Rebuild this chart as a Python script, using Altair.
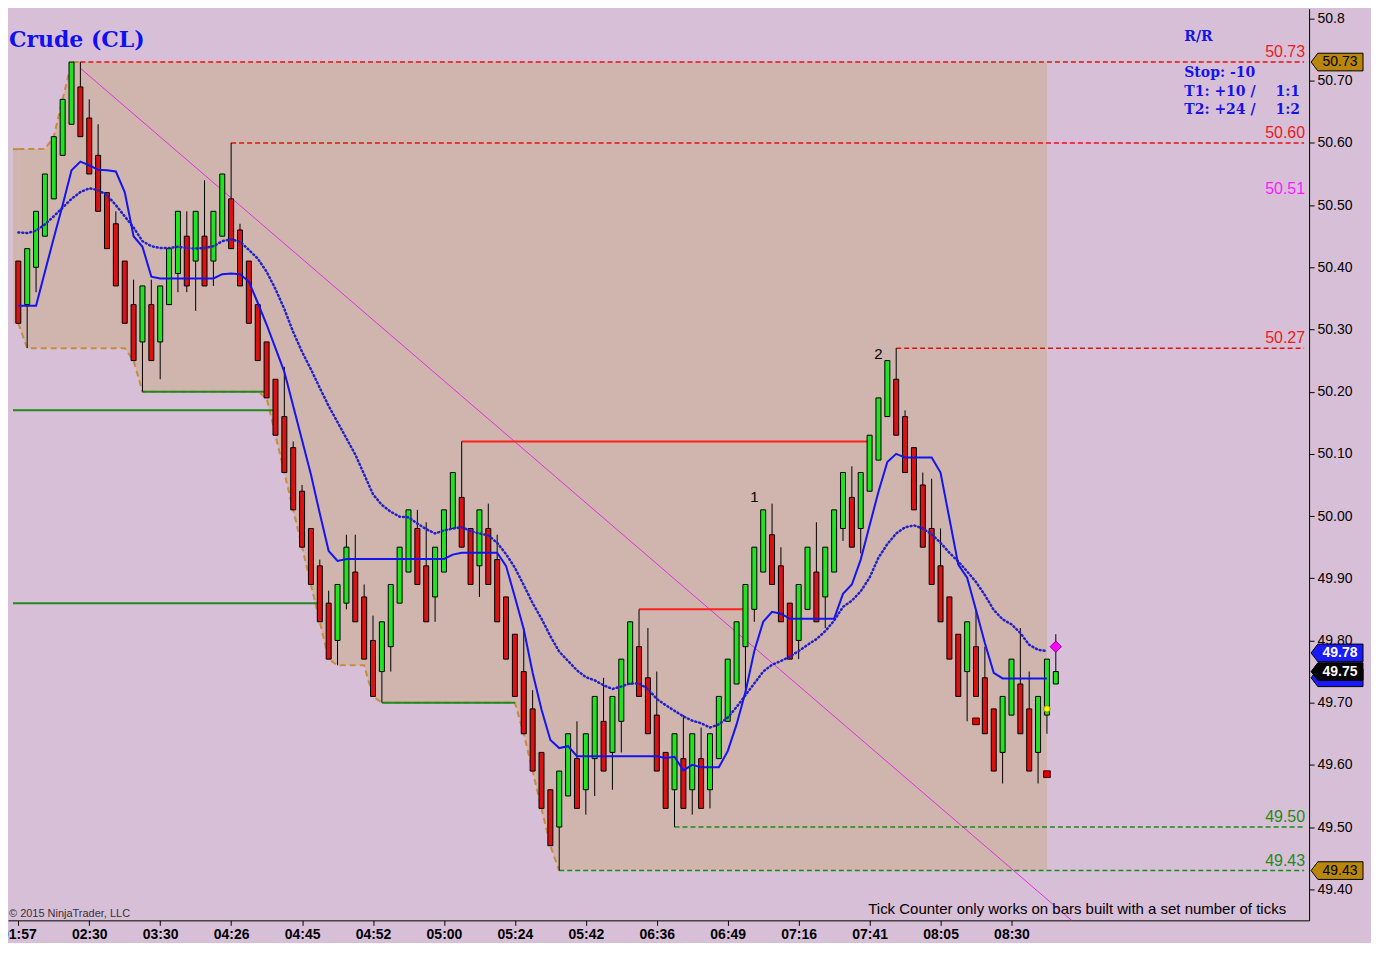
import altair as alt
import pandas as pd

# ---------------- axis ranges / sizes ----------------
X_MIN, X_MAX = -0.6, 145
Y_MIN, Y_MAX = 49.35, 50.8158
W, H = 1303, 913

# ---------------- bar data (range bars) ----------------
OPEN = [50.41, 50.34, 50.40, 50.45, 50.51, 50.58, 50.63, 50.69, 50.64, 50.58,
        50.52, 50.47, 50.41, 50.34, 50.28, 50.34, 50.28, 50.34, 50.39, 50.45,
        50.41, 50.45, 50.41, 50.45, 50.51, 50.46, 50.41, 50.34, 50.28, 50.22,
        50.16, 50.11, 50.04, 49.98, 49.92, 49.86, 49.80, 49.86, 49.91, 49.87,
        49.80, 49.75, 49.79, 49.86, 49.91, 49.98, 49.92, 49.87, 49.91, 49.98,
        50.03, 49.98, 49.92, 49.98, 49.93, 49.87, 49.81, 49.75, 49.69, 49.62,
        49.56, 49.50, 49.55, 49.61, 49.56, 49.61, 49.67, 49.62, 49.67, 49.73,
        49.79, 49.74, 49.68, 49.62, 49.56, 49.61, 49.56, 49.61, 49.56, 49.61,
        49.67, 49.73, 49.79, 49.85, 49.91, 49.97, 49.92, 49.86, 49.80, 49.85,
        49.91, 49.87, 49.91, 49.98, 50.03, 49.98, 50.04, 50.09, 50.16, 50.22,
        50.16, 50.11, 50.05, 49.98, 49.92, 49.87, 49.81, 49.75, 49.79, 49.74,
        49.69, 49.62, 49.68, 49.73, 49.69, 49.62, 49.68, 49.73]
HIGH = [50.41, 50.43, 50.49, 50.55, 50.61, 50.67, 50.73, 50.73, 50.67, 50.63,
        50.52, 50.49, 50.41, 50.38, 50.37, 50.38, 50.37, 50.43, 50.49, 50.49,
        50.49, 50.54, 50.49, 50.55, 50.60, 50.47, 50.41, 50.34, 50.28, 50.22,
        50.24, 50.12, 50.05, 49.98, 49.93, 49.88, 49.89, 49.97, 49.97, 49.89,
        49.84, 49.83, 49.89, 49.95, 50.01, 50.01, 49.99, 49.95, 50.01, 50.07,
        50.12, 49.98, 50.01, 50.02, 49.97, 49.87, 49.81, 49.82, 49.72, 49.62,
        49.56, 49.59, 49.65, 49.67, 49.65, 49.71, 49.74, 49.71, 49.77, 49.83,
        49.85, 49.82, 49.75, 49.62, 49.65, 49.68, 49.65, 49.66, 49.65, 49.71,
        49.77, 49.83, 49.89, 49.95, 50.01, 50.02, 49.95, 49.86, 49.89, 49.95,
        49.99, 49.95, 50.01, 50.07, 50.08, 50.07, 50.13, 50.19, 50.25, 50.27,
        50.17, 50.11, 50.07, 50.06, 49.98, 49.87, 49.81, 49.83, 49.85, 49.79,
        49.69, 49.71, 49.77, 49.82, 49.75, 49.71, 49.77, 49.81]
LOW = [50.31, 50.27, 50.36, 50.45, 50.51, 50.58, 50.63, 50.61, 50.55, 50.49,
       50.43, 50.37, 50.31, 50.25, 50.20, 50.25, 50.22, 50.34, 50.36, 50.36,
       50.33, 50.37, 50.37, 50.45, 50.43, 50.37, 50.31, 50.25, 50.19, 50.13,
       50.07, 50.01, 49.95, 49.89, 49.83, 49.77, 49.76, 49.85, 49.83, 49.77,
       49.71, 49.70, 49.75, 49.86, 49.91, 49.89, 49.83, 49.83, 49.91, 49.98,
       49.95, 49.89, 49.87, 49.89, 49.83, 49.77, 49.71, 49.65, 49.59, 49.53,
       49.47, 49.43, 49.55, 49.53, 49.52, 49.55, 49.59, 49.56, 49.62, 49.73,
       49.71, 49.65, 49.59, 49.53, 49.50, 49.53, 49.52, 49.53, 49.53, 49.61,
       49.67, 49.73, 49.71, 49.83, 49.91, 49.89, 49.83, 49.77, 49.77, 49.85,
       49.83, 49.82, 49.91, 49.96, 49.95, 49.94, 50.04, 50.09, 50.16, 50.13,
       50.07, 50.01, 49.95, 49.89, 49.83, 49.77, 49.71, 49.67, 49.71, 49.65,
       49.59, 49.57, 49.68, 49.65, 49.59, 49.57, 49.65, 49.73]
CLOSE = [50.31, 50.43, 50.49, 50.55, 50.61, 50.67, 50.73, 50.61, 50.55, 50.49,
         50.43, 50.37, 50.31, 50.25, 50.37, 50.25, 50.37, 50.43, 50.49, 50.37,
         50.49, 50.37, 50.49, 50.55, 50.43, 50.37, 50.31, 50.25, 50.19, 50.13,
         50.07, 50.01, 49.95, 49.89, 49.83, 49.77, 49.89, 49.95, 49.83, 49.77,
         49.71, 49.83, 49.89, 49.95, 50.01, 49.89, 49.83, 49.95, 50.01, 50.07,
         49.95, 49.89, 50.01, 49.89, 49.83, 49.77, 49.71, 49.65, 49.59, 49.53,
         49.47, 49.59, 49.65, 49.53, 49.65, 49.71, 49.59, 49.71, 49.77, 49.83,
         49.71, 49.65, 49.59, 49.53, 49.65, 49.53, 49.65, 49.53, 49.65, 49.71,
         49.77, 49.83, 49.89, 49.95, 50.01, 49.89, 49.83, 49.77, 49.89, 49.95,
         49.83, 49.95, 50.01, 50.07, 49.95, 50.07, 50.13, 50.19, 50.25, 50.13,
         50.07, 50.01, 49.95, 49.89, 49.83, 49.77, 49.71, 49.83, 49.71, 49.65,
         49.59, 49.71, 49.77, 49.65, 49.59, 49.71, 49.77, 49.75]

# ---------------- indicators ----------------
MA_FAST = [50.338, 50.338, 50.338, 50.393, 50.447, 50.500, 50.556, 50.570, 50.564, 50.557,
           50.556, 50.554, 50.521, 50.450, 50.433, 50.385, 50.382, 50.382, 50.382, 50.382,
           50.382, 50.382, 50.382, 50.389, 50.390, 50.389, 50.377, 50.343, 50.308, 50.270,
           50.232, 50.177, 50.122, 50.067, 50.004, 49.944, 49.928, 49.931, 49.931, 49.931,
           49.931, 49.931, 49.931, 49.931, 49.931, 49.931, 49.931, 49.931, 49.931, 49.938,
           49.941, 49.941, 49.941, 49.941, 49.941, 49.920, 49.870, 49.818, 49.748, 49.689,
           49.640, 49.627, 49.630, 49.614, 49.614, 49.614, 49.614, 49.614, 49.614, 49.614,
           49.614, 49.614, 49.614, 49.611, 49.613, 49.591, 49.600, 49.596, 49.596, 49.596,
           49.622, 49.665, 49.717, 49.783, 49.830, 49.846, 49.843, 49.835, 49.835, 49.835,
           49.835, 49.835, 49.835, 49.875, 49.890, 49.930, 49.985, 50.039, 50.087, 50.100,
           50.094, 50.094, 50.094, 50.094, 50.070, 49.996, 49.922, 49.901, 49.849, 49.796,
           49.748, 49.739, 49.739, 49.739, 49.739, 49.739, 49.739]
MA_SLOW = [50.456, 50.455, 50.459, 50.469, 50.482, 50.496, 50.510, 50.521, 50.527, 50.524,
           50.516, 50.500, 50.482, 50.464, 50.442, 50.434, 50.431, 50.431, 50.433, 50.431,
           50.430, 50.431, 50.434, 50.442, 50.445, 50.441, 50.428, 50.414, 50.393, 50.365,
           50.333, 50.296, 50.264, 50.236, 50.206, 50.177, 50.151, 50.125, 50.099, 50.067,
           50.035, 50.018, 50.007, 49.999, 49.998, 49.988, 49.979, 49.972, 49.977, 49.980,
           49.982, 49.976, 49.972, 49.969, 49.957, 49.939, 49.917, 49.889, 49.860, 49.835,
           49.807, 49.782, 49.767, 49.752, 49.741, 49.736, 49.728, 49.722, 49.726, 49.731,
           49.731, 49.722, 49.706, 49.696, 49.687, 49.678, 49.671, 49.667, 49.660, 49.665,
           49.676, 49.693, 49.712, 49.731, 49.750, 49.761, 49.767, 49.774, 49.783, 49.793,
           49.802, 49.815, 49.832, 49.854, 49.864, 49.879, 49.901, 49.933, 49.955, 49.972,
           49.982, 49.985, 49.980, 49.971, 49.957, 49.941, 49.927, 49.911, 49.894, 49.873,
           49.849, 49.834, 49.826, 49.812, 49.793, 49.785, 49.783]
ENV_UPPER = [50.59, 50.59, 50.59, 50.59, 50.61, 50.67, 50.73, 50.73, 50.73, 50.73,
             50.73, 50.73, 50.73, 50.73, 50.73, 50.73, 50.73, 50.73, 50.73, 50.73,
             50.73, 50.73, 50.73, 50.73, 50.73, 50.73, 50.73, 50.73, 50.73, 50.73,
             50.73, 50.73, 50.73, 50.73, 50.73, 50.73, 50.73, 50.73, 50.73, 50.73,
             50.73, 50.73, 50.73, 50.73, 50.73, 50.73, 50.73, 50.73, 50.73, 50.73,
             50.73, 50.73, 50.73, 50.73, 50.73, 50.73, 50.73, 50.73, 50.73, 50.73,
             50.73, 50.73, 50.73, 50.73, 50.73, 50.73, 50.73, 50.73, 50.73, 50.73,
             50.73, 50.73, 50.73, 50.73, 50.73, 50.73, 50.73, 50.73, 50.73, 50.73,
             50.73, 50.73, 50.73, 50.73, 50.73, 50.73, 50.73, 50.73, 50.73, 50.73,
             50.73, 50.73, 50.73, 50.73, 50.73, 50.73, 50.73, 50.73, 50.73, 50.73,
             50.73, 50.73, 50.73, 50.73, 50.73, 50.73, 50.73, 50.73, 50.73, 50.73,
             50.73, 50.73, 50.73, 50.73, 50.73, 50.73, 50.73]
ENV_LOWER = [50.31, 50.27, 50.27, 50.27, 50.27, 50.27, 50.27, 50.27, 50.27, 50.27,
             50.27, 50.27, 50.27, 50.25, 50.20, 50.20, 50.20, 50.20, 50.20, 50.20,
             50.20, 50.20, 50.20, 50.20, 50.20, 50.20, 50.20, 50.20, 50.19, 50.13,
             50.07, 50.01, 49.95, 49.89, 49.83, 49.77, 49.76, 49.76, 49.76, 49.76,
             49.71, 49.70, 49.70, 49.70, 49.70, 49.70, 49.70, 49.70, 49.70, 49.70,
             49.70, 49.70, 49.70, 49.70, 49.70, 49.70, 49.70, 49.65, 49.59, 49.53,
             49.47, 49.43, 49.43, 49.43, 49.43, 49.43, 49.43, 49.43, 49.43, 49.43,
             49.43, 49.43, 49.43, 49.43, 49.43, 49.43, 49.43, 49.43, 49.43, 49.43,
             49.43, 49.43, 49.43, 49.43, 49.43, 49.43, 49.43, 49.43, 49.43, 49.43,
             49.43, 49.43, 49.43, 49.43, 49.43, 49.43, 49.43, 49.43, 49.43, 49.43,
             49.43, 49.43, 49.43, 49.43, 49.43, 49.43, 49.43, 49.43, 49.43, 49.43,
             49.43, 49.43, 49.43, 49.43, 49.43, 49.43, 49.43]

# ---------------- drawn lines ----------------
RED_DASH_START = [7, 24, 99]
RED_DASH_PRICE = [50.73, 50.60, 50.27]
GREEN_DASH_START = [74, 61]
GREEN_DASH_PRICE = [49.50, 49.43]
RED_SOLID_START = [50, 70]
RED_SOLID_END = [96, 82]
RED_SOLID_PRICE = [50.12, 49.85]
GREEN_SOLID_START = [X_MIN, X_MIN, 14, 41]
GREEN_SOLID_END = [29, 34, 28, 56]
GREEN_SOLID_PRICE = [50.17, 49.86, 50.20, 49.70]
TREND_BARS = [7, 120]
TREND_PRICES = [50.72, 49.335]

# ---------------- labels ----------------
TIME_TICK_BARS = [0, 8, 16, 24, 32, 40, 48, 56, 64, 72, 80, 88, 96, 104, 112]
TIME_LABELS = ["01:57", "02:30", "03:30", "04:26", "04:45", "04:52", "05:00", "05:24",
               "05:42", "06:36", "06:49", "07:16", "07:41", "08:05", "08:30"]
Y_TICKS = [49.40, 49.50, 49.60, 49.70, 49.80, 49.90, 50.00, 50.10, 50.20, 50.30,
           50.40, 50.50, 50.60, 50.70, 50.80]
LEVEL_PRICES = [50.73, 50.60, 50.51, 50.27, 49.50, 49.43]
LEVEL_TEXTS = ["50.73", "50.60", "50.51", "50.27", "49.50", "49.43"]
LEVEL_COLORS = ["#e81c1c", "#e81c1c", "#ff1aff", "#e81c1c", "#1a8c1a", "#1a8c1a"]
TAG_PRICES = [50.73, 49.74, 49.78, 49.75, 49.43]
TAG_TEXTS = ["50.73", "", "49.78", "49.75", "49.43"]
TAG_FILLS = ["#b8860b", "#1a1aff", "#1a1aff", "#000000", "#b8860b"]
TAG_TEXT_COLORS = ["#000000", "#ffffff", "#ffffff", "#ffffff", "#000000"]
TAG_WEIGHTS = ["normal", "bold", "bold", "bold", "normal"]
SWING_BARS = [83, 97]
SWING_PRICES = [50.03, 50.26]
SWING_TEXTS = ["1", "2"]

GREEN = "#1fe31f"
RED = "#dc1212"
SHADE = "#cfb5ad"

# ---------------- frames ----------------
bars = pd.DataFrame({"i": list(range(len(OPEN))), "open": OPEN, "high": HIGH,
                     "low": LOW, "close": CLOSE})
bars["dir"] = ["up" if c >= o else "down" for o, c in zip(OPEN, CLOSE)]
ind = pd.DataFrame({"i": list(range(len(MA_FAST))), "fast": MA_FAST, "slow": MA_SLOW,
                    "upper": ENV_UPPER, "lower": ENV_LOWER})
# the shaded channel also runs back to the left edge at the first bar's levels
edge = pd.DataFrame({"i": [X_MIN, 0], "upper": [ENV_UPPER[0], ENV_UPPER[0]],
                     "lower": [ENV_LOWER[0], ENV_LOWER[0]]})

xs = alt.Scale(domain=[X_MIN, X_MAX], nice=False, zero=False)
ys = alt.Scale(domain=[Y_MIN, Y_MAX], nice=False, zero=False)

x_expr = ""
for b, t in zip(TIME_TICK_BARS, TIME_LABELS):
    x_expr += f"datum.value == {b} ? '{t}' : "
x_expr += "''"

x_axis = alt.Axis(values=TIME_TICK_BARS, labelExpr=x_expr, title=None, grid=False,
                  domainColor="black", tickColor="black", tickSize=5,
                  labelFont="Liberation Sans", labelFontSize=14, labelFontWeight="bold",
                  labelColor="black", labelPadding=2, labelFlush=False)
y_axis = alt.Axis(orient="right", values=Y_TICKS,
                  labelExpr="datum.value >= 50.795 ? '50.8' : format(datum.value, '.2f')",
                  title=None, grid=False, domainColor="black", tickColor="black", tickSize=5,
                  labelFont="Liberation Sans", labelFontSize=14, labelColor="black",
                  labelPadding=3)


def X(field):
    return alt.X(f"{field}:Q", scale=xs, axis=x_axis)


def Y(field):
    return alt.Y(f"{field}:Q", scale=ys, axis=y_axis)


fill = alt.Chart(ind).mark_area(color=SHADE, opacity=1).encode(
    x=X("i"), y=Y("upper"), y2="lower")
fill_edge = alt.Chart(edge).mark_area(color=SHADE, opacity=1).encode(
    x=X("i"), y=Y("upper"), y2="lower")

env_lo = alt.Chart(ind).transform_filter("datum.i <= 61").mark_line(
    color="#c98b3c", strokeDash=[6, 4], strokeWidth=2).encode(x=X("i"), y=Y("lower"))
env_up = alt.Chart(ind).transform_filter("datum.i <= 7").mark_line(
    color="#c98b3c", strokeDash=[6, 4], strokeWidth=2).encode(x=X("i"), y=Y("upper"))
env_edge = alt.Chart(edge).mark_line(
    color="#c98b3c", strokeDash=[6, 4], strokeWidth=2).encode(x=X("i"), y=Y("upper"))

gsolid = alt.Chart(pd.DataFrame({"s": GREEN_SOLID_START, "e": GREEN_SOLID_END,
                                 "p": GREEN_SOLID_PRICE})).mark_rule(
    color="#1f8a1f", strokeWidth=2).encode(x=X("s"), x2="e", y=Y("p"))

trend = alt.Chart(pd.DataFrame({"b": TREND_BARS, "p": TREND_PRICES})).mark_line(
    color="#e030e0", strokeWidth=1, clip=True).encode(x=X("b"), y=Y("p"))

rdash = alt.Chart(pd.DataFrame({"s": RED_DASH_START, "e": [X_MAX] * len(RED_DASH_START),
                                "p": RED_DASH_PRICE})).mark_rule(
    color="#e81010", strokeWidth=1.5, strokeDash=[5, 3]).encode(x=X("s"), x2="e", y=Y("p"))
gdash = alt.Chart(pd.DataFrame({"s": GREEN_DASH_START, "e": [X_MAX] * len(GREEN_DASH_START),
                                "p": GREEN_DASH_PRICE})).mark_rule(
    color="#1a8c1a", strokeWidth=1.5, strokeDash=[5, 3]).encode(x=X("s"), x2="e", y=Y("p"))
rsolid = alt.Chart(pd.DataFrame({"s": RED_SOLID_START, "e": RED_SOLID_END,
                                 "p": RED_SOLID_PRICE})).mark_rule(
    color="#ff2020", strokeWidth=2).encode(x=X("s"), x2="e", y=Y("p"))

wick = alt.Chart(bars).mark_rule(color="black", strokeWidth=1).encode(
    x=X("i"), y=Y("low"), y2="high")
body = alt.Chart(bars).mark_bar(size=5, stroke="black", strokeWidth=1).encode(
    x=X("i"), y=Y("open"), y2="close",
    color=alt.Color("dir:N", scale=alt.Scale(domain=["up", "down"], range=[GREEN, RED]),
                    legend=None))

slow = alt.Chart(ind).mark_line(color="#2222c8", strokeWidth=2.5, strokeDash=[1, 3],
                                strokeCap="round").encode(x=X("i"), y=Y("slow"))
fast = alt.Chart(ind).mark_line(color="#1414f0", strokeWidth=2).encode(x=X("i"), y=Y("fast"))

diamond = alt.Chart(pd.DataFrame({"b": [117], "p": [49.79]})).mark_point(
    shape="diamond", filled=True, size=130, color="#ff00ff", stroke="#8a008a",
    strokeWidth=1, opacity=1).encode(x=X("b"), y=Y("p"))
ydot = alt.Chart(pd.DataFrame({"b": [116], "p": [49.69]})).mark_point(
    shape="circle", filled=True, size=40, color="#ffff00", stroke="#999900",
    strokeWidth=1, opacity=1).encode(x=X("b"), y=Y("p"))
rsq = alt.Chart(pd.DataFrame({"b": [108, 116], "p": [49.67, 49.585]})).mark_point(
    shape="square", filled=True, size=45, color="#e00000", stroke="#400000",
    strokeWidth=1, opacity=1).encode(x=X("b"), y=Y("p"))

swing = alt.Chart(pd.DataFrame({"b": SWING_BARS, "p": SWING_PRICES, "t": SWING_TEXTS})).mark_text(
    font="Liberation Sans", fontSize=15, color="black").encode(x=X("b"), y=Y("p"), text="t:N")

levels = alt.Chart(pd.DataFrame({"p": LEVEL_PRICES, "t": LEVEL_TEXTS, "c": LEVEL_COLORS})).mark_text(
    font="Liberation Sans", fontSize=16, align="right", baseline="bottom", dy=-2).encode(
    x=alt.value(W - 4), y=Y("p"), text="t:N", color=alt.Color("c:N", scale=None))

tag_df = pd.DataFrame({"p": TAG_PRICES, "t": TAG_TEXTS, "f": TAG_FILLS, "c": TAG_TEXT_COLORS,
                       "w": TAG_WEIGHTS, "o": list(range(len(TAG_PRICES)))})
TAG_SHAPE = "M -1 0 L -0.74 -0.34 L 1 -0.34 L 1 0.34 L -0.74 0.34 Z"
tags = alt.Chart(tag_df).mark_point(shape=TAG_SHAPE, filled=True, size=2704, stroke="black",
                                    strokeWidth=1, opacity=1).encode(
    x=alt.value(W + 28), y=Y("p"), fill=alt.Color("f:N", scale=None), order="o:Q")
tag_text_n = alt.Chart(tag_df).transform_filter("datum.w == 'normal'").mark_text(
    font="Liberation Sans", fontSize=14, align="center").encode(
    x=alt.value(W + 31), y=Y("p"), text="t:N", color=alt.Color("c:N", scale=None))
tag_text_b = alt.Chart(tag_df).transform_filter("datum.w == 'bold'").mark_text(
    font="Liberation Sans", fontSize=14, fontWeight="bold", align="center").encode(
    x=alt.value(W + 31), y=Y("p"), text="t:N", color=alt.Color("c:N", scale=None))

title = alt.Chart(pd.DataFrame({"t": ["Crude (CL)"]})).mark_text(
    font="DejaVu Serif", fontSize=22, fontWeight="bold", color="#1010f0",
    align="left", baseline="alphabetic").encode(x=alt.value(1), y=alt.value(38), text="t:N")

RR_LEFT = ["R/R", "Stop:  -10", "T1:  +10  /", "T2:  +24  /"]
RR_LEFT_Y = [32, 68, 87, 105]
RR_RIGHT = ["1:1", "1:2"]
RR_RIGHT_Y = [87, 105]
rr_left = alt.Chart(pd.DataFrame({"t": RR_LEFT, "y": RR_LEFT_Y})).mark_text(
    font="DejaVu Serif", fontSize=14, fontWeight="bold", color="#1414e6",
    align="left", baseline="alphabetic").encode(
    x=alt.value(1178), y=alt.Y("y:Q", scale=None), text="t:N")
rr_right = alt.Chart(pd.DataFrame({"t": RR_RIGHT, "y": RR_RIGHT_Y})).mark_text(
    font="DejaVu Serif", fontSize=14, fontWeight="bold", color="#1414e6",
    align="right", baseline="alphabetic").encode(
    x=alt.value(1294), y=alt.Y("y:Q", scale=None), text="t:N")

notes = alt.Chart(pd.DataFrame({"t": ["Tick Counter only works on bars built with a set number of ticks"]})).mark_text(
    font="Liberation Sans", fontSize=15, color="black", align="right",
    baseline="alphabetic").encode(x=alt.value(1280), y=alt.value(H - 6), text="t:N")
copy = alt.Chart(pd.DataFrame({"t": ["© 2015 NinjaTrader, LLC"]})).mark_text(
    font="Liberation Sans", fontSize=11, color="#333333", align="left",
    baseline="alphabetic").encode(x=alt.value(1), y=alt.value(H - 3), text="t:N")

chart = alt.layer(
    fill_edge, fill, env_edge, env_lo, env_up, gsolid, trend, rdash, gdash, rsolid,
    wick, body, slow, fast, diamond, ydot, rsq, swing, levels,
    tags, tag_text_n, tag_text_b, title, rr_left, rr_right, notes, copy
).properties(
    width=W, height=H, background="#d8bfd8",
    padding={"left": 0, "top": 0, "right": 62, "bottom": 22},
    autosize=alt.AutoSizeParams(type="none"),
).configure_view(strokeWidth=0)

chart.save("out.html", embed_options={"renderer": "svg", "actions": False})
